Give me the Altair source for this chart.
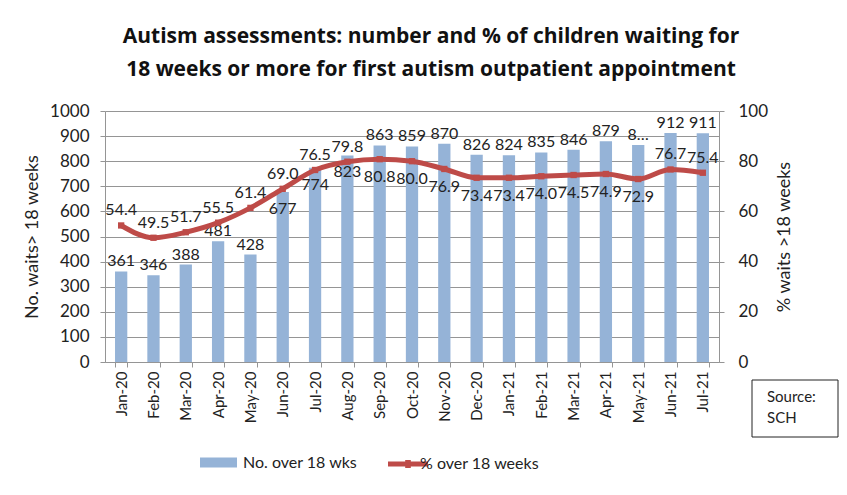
import altair as alt
import pandas as pd

months = ["Jan-20", "Feb-20", "Mar-20", "Apr-20", "May-20", "Jun-20", "Jul-20",
          "Aug-20", "Sep-20", "Oct-20", "Nov-20", "Dec-20", "Jan-21", "Feb-21",
          "Mar-21", "Apr-21", "May-21", "Jun-21", "Jul-21"]
counts = [361, 346, 388, 481, 428, 677, 774, 823, 863, 859, 870, 826, 824, 835,
          846, 879, 865, 912, 911]
count_labels = ["361", "346", "388", "481", "428", "677", "774", "823", "863", "859",
                "870", "826", "824", "835", "846", "879", "8…", "912", "911"]
count_label_side = ["outside"] * 5 + ["inside"] * 3 + ["outside"] * 11
pcts = [54.4, 49.5, 51.7, 55.5, 61.4, 69.0, 76.5, 79.8, 80.8, 80.0, 76.9, 73.4,
        73.4, 74.0, 74.5, 74.9, 72.9, 76.7, 75.4]
pct_label_side = ["above"] * 8 + ["below"] * 9 + ["above"] * 2

title_lines = ["Autism assessments:  number and % of children waiting  for",
               "18 weeks or more for first autism outpatient appointment"]
bar_series = "No. over 18 wks"
line_series = "% over 18 weeks"
source_lines = ["Source:", "SCH"]

BLUE = "#95B3D7"
RED = "#BE4B48"
FONT = "Lato"
TXT = "#222222"
GRID = "#959595"

df = pd.DataFrame({
    "month": months,
    "count": counts,
    "count_label": count_labels,
    "cside": count_label_side,
    "pct": pcts,
    "side": pct_label_side,
    "bar_series": [bar_series] * len(months),
    "line_series": [line_series] * len(months),
})

x_enc = alt.X(
    "month:N", sort=months,
    scale=alt.Scale(paddingInner=0.62),
    axis=alt.Axis(title=None, labelAngle=270, labelFontSize=15, labelFont=FONT,
                  labelColor=TXT, tickBand="extent", tickSize=5, labelPadding=4,
                  domainColor=GRID, tickColor=GRID, grid=False),
)
x_plain = alt.X("month:N", sort=months)

left_scale = alt.Scale(domain=[0, 1000], nice=False)
y_left = alt.Y(
    "count:Q", scale=left_scale,
    axis=alt.Axis(title="No. waits> 18 weeks", values=list(range(0, 1001, 100)),
                  format="d", labelOverlap=False,
                  labelFontSize=17, labelFont=FONT, labelColor=TXT,
                  titleFontSize=18, titleFont=FONT, titleFontWeight="normal",
                  titleColor=TXT, titlePadding=8, tickSize=5, labelPadding=11,
                  domainColor=GRID, tickColor=GRID, gridColor=GRID, grid=True),
)

base = alt.Chart(df)

bars = base.mark_bar().encode(
    x=x_enc,
    y=y_left,
    fill=alt.Fill("bar_series:N", scale=alt.Scale(range=[BLUE]),
                  legend=alt.Legend(title=None, orient="none", legendX=95, legendY=333,
                                    symbolType="M-1,-0.27H1V0.27H-1Z", symbolSize=1369,
                                    symbolStrokeWidth=0,
                                    labelFontSize=16, labelFont=FONT, labelColor=TXT,
                                    labelOffset=6)),
)

bar_text_out = base.transform_filter(alt.datum.cside == "outside").mark_text(
    baseline="alphabetic", dy=-5, fontSize=16, font=FONT, color=TXT).encode(
    x=x_plain, y=y_left, text="count_label:N")
bar_text_in = base.transform_filter(alt.datum.cside == "inside").mark_text(
    baseline="middle", dy=17, fontSize=16, font=FONT, color=TXT).encode(
    x=x_plain, y=y_left, text="count_label:N")

left = alt.layer(bars, bar_text_out, bar_text_in)

right_scale = alt.Scale(domain=[0, 100], nice=False)
y_right = alt.Y(
    "pct:Q", scale=right_scale,
    axis=alt.Axis(orient="right", title="% waits >18 weeks", values=list(range(0, 101, 20)),
                  labelOverlap=False,
                  labelFontSize=17, labelFont=FONT, labelColor=TXT,
                  titleFontSize=18, titleFont=FONT, titleFontWeight="normal",
                  titleColor=TXT, titleAngle=270, titlePadding=26, tickSize=5,
                  labelPadding=14, domainColor=GRID, tickColor=GRID, grid=False),
)

line = base.mark_line(strokeWidth=5, interpolate="monotone").encode(
    x=x_plain,
    y=y_right,
    stroke=alt.Stroke("line_series:N", scale=alt.Scale(range=[RED]),
                      legend=alt.Legend(title=None, orient="none", legendX=272, legendY=333,
                                        symbolType="M-0.45,-0.13H1.55V0.13H-0.45Z M0.41,-0.2H0.69V0.2H0.41Z",
                                        symbolSize=1600, symbolFillColor=RED,
                                        symbolStrokeWidth=0,
                                        labelFontSize=16, labelFont=FONT, labelColor=TXT,
                                        labelOffset=3)),
)

points = base.mark_point(shape="square", filled=True, size=40, color=RED, opacity=1).encode(
    x=x_plain, y=y_right)

pct_above = base.transform_filter(alt.datum.side == "above").mark_text(
    baseline="middle", dy=-15, fontSize=16, font=FONT, color=TXT).encode(
    x=x_plain, y=y_right, text=alt.Text("pct:Q", format=".1f"))
pct_below = base.transform_filter(alt.datum.side == "below").mark_text(
    baseline="middle", dy=18, fontSize=16, font=FONT, color=TXT).encode(
    x=x_plain, y=y_right, text=alt.Text("pct:Q", format=".1f"))

right = alt.layer(line, points, pct_above, pct_below)

src_df = pd.DataFrame({"a": [0]})
src_box = alt.Chart(src_df).mark_rect(fill="white", stroke="#222222", strokeWidth=1).encode(
    x=alt.value(647), x2=alt.value(733), y=alt.value(269), y2=alt.value(326))
src_t1 = alt.Chart(src_df).mark_text(align="left", baseline="middle", fontSize=15,
                                     font=FONT, color=TXT).encode(
    x=alt.value(662), y=alt.value(286), text=alt.value(source_lines[0]))
src_t2 = alt.Chart(src_df).mark_text(align="left", baseline="middle", fontSize=15,
                                     font=FONT, color=TXT).encode(
    x=alt.value(662), y=alt.value(307), text=alt.value(source_lines[1]))

chart = alt.layer(left, right, src_box, src_t1, src_t2).resolve_scale(
    y="independent", fill="independent", stroke="independent"
).resolve_axis(y="independent").properties(
    width=614, height=251,
    title=alt.Title(text=title_lines, fontSize=21, font="Open Sans", fontWeight="bold",
                    color="#111111", lineHeight=33, anchor="middle", dx=19, offset=22),
    autosize=alt.AutoSizeParams(type="none"),
    padding={"left": 97, "top": 103, "right": 120, "bottom": 125},
).configure_view(stroke=None)

chart.save("out.html", embed_options={"renderer": "svg", "actions": False})
